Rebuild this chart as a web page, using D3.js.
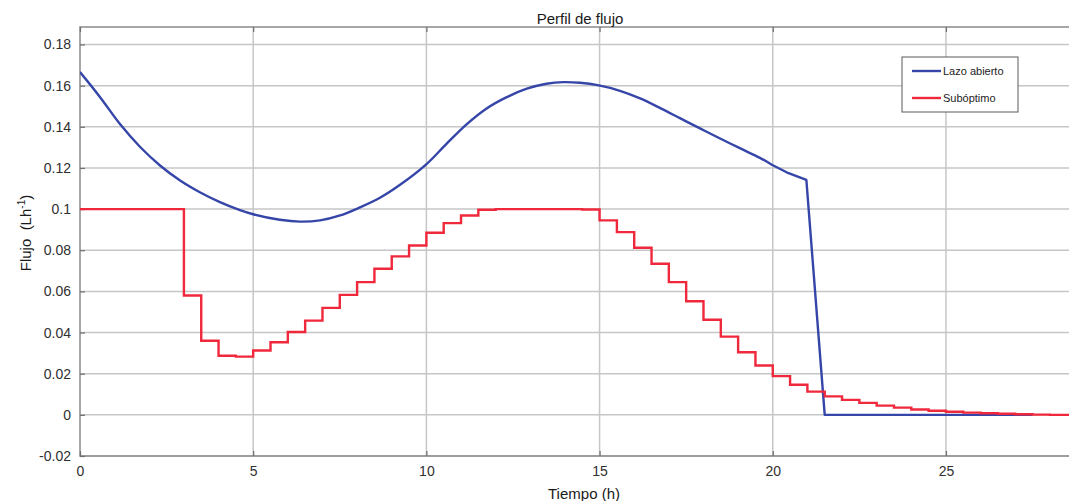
<!DOCTYPE html>
<html>
<head>
<meta charset="utf-8">
<script src="https://cdn.jsdelivr.net/npm/d3@7"></script>
<style>
  html, body { margin: 0; padding: 0; background: #fff; }
  svg { display: block; font-family: "Liberation Sans", Arial, Helvetica, sans-serif; }
</style>
</head>
<body>
<div id="chart"></div>
<script>
// Perfil de flujo: lazo abierto (smooth) vs subóptimo (stepped, 0.5 h intervals)

// Lazo abierto: time (h) and flow (L/h)
const openTimes = [0, 0.58, 1.16, 1.73, 2.31, 2.89, 3.46, 4.04, 4.62, 5.0, 5.77, 6.35, 6.93, 7.51,
  8.08, 8.66, 9.24, 9.98, 10.58, 11.16, 11.73, 12.32, 12.9, 13.47, 13.95, 14.43, 14.98, 15.59,
  16.17, 16.74, 17.32, 17.9, 18.48, 19.05, 19.63, 19.96, 20.4, 20.97, 21.5, 27.5];
const openValues = [0.1666, 0.1544, 0.1412, 0.1303, 0.1212, 0.1139, 0.1082, 0.1034, 0.0995, 0.0975,
  0.0948, 0.0939, 0.0945, 0.0969, 0.1008, 0.1055, 0.1118, 0.1215, 0.1317, 0.1412, 0.1488, 0.1544,
  0.1585, 0.1609, 0.1617, 0.1614, 0.1601, 0.1575, 0.1538, 0.1492, 0.1442, 0.1392, 0.1343, 0.1296,
  0.1249, 0.1217, 0.1179, 0.1142, 0, 0];
// index from which the curve is drawn with straight segments (the kink and drop)
const openKinkIndex = 35;

// Subóptimo: step start times (h) and flow (L/h)
const subTimes = [0, 3, 3.5, 4, 4.5, 5, 5.5, 6, 6.5, 7, 7.5, 8, 8.5, 9, 9.5, 10, 10.5, 11, 11.5,
  12, 12.5, 13, 13.5, 14, 14.5, 15, 15.5, 16, 16.5, 17, 17.5, 18, 18.5, 19, 19.5, 20, 20.5, 21,
  21.5, 22, 22.5, 23, 23.5, 24, 24.5, 25, 25.5, 26, 26.5, 27, 27.5, 28, 28.87];
const subValues = [0.1, 0.058, 0.036, 0.0287, 0.0283, 0.0313, 0.0353, 0.0403, 0.0458, 0.052, 0.0583,
  0.0645, 0.071, 0.077, 0.0823, 0.0885, 0.0932, 0.0969, 0.0997, 0.1, 0.1, 0.1, 0.1, 0.1, 0.0998,
  0.0945, 0.0888, 0.0812, 0.0734, 0.0645, 0.0552, 0.0462, 0.038, 0.0304, 0.024, 0.0188, 0.0146,
  0.0113, 0.009, 0.0073, 0.0058, 0.0045, 0.0035, 0.0026, 0.002, 0.0015, 0.0011, 0.0008, 0.0005,
  0.0003, 0.0001, 0, 0];

const xTicks = [0, 5, 10, 15, 20, 25];
const yTicks = [-0.02, 0, 0.02, 0.04, 0.06, 0.08, 0.1, 0.12, 0.14, 0.16, 0.18];
const seriesNames = ["Lazo abierto", "Subóptimo"];
const seriesColors = ["#3646a8", "#f0283c"];

const width = 1069, height = 501;
const margin = { top: 27, right: -11, bottom: 45, left: 80 };
const innerW = width - margin.left - margin.right;
const innerH = height - margin.top - margin.bottom;

const svg = d3.select("#chart").append("svg")
  .attr("width", width)
  .attr("height", height);

svg.append("rect").attr("width", width).attr("height", height).attr("fill", "#fff");

const g = svg.append("g").attr("transform", `translate(${margin.left},${margin.top})`);

const x = d3.scaleLinear().domain([0, 28.87]).range([0, innerW]);
const y = d3.scaleLinear().domain([-0.02, 0.1885]).range([innerH, 0]);

// grid
g.append("g").selectAll("line").data(yTicks).join("line")
  .attr("x1", 0).attr("x2", innerW)
  .attr("y1", d => y(d)).attr("y2", d => y(d))
  .attr("stroke", "#c6c6c6").attr("stroke-width", 1.5);
g.append("g").selectAll("line").data(xTicks.filter(d => d > 0)).join("line")
  .attr("y1", 0).attr("y2", innerH)
  .attr("x1", d => x(d)).attr("x2", d => x(d))
  .attr("stroke", "#c6c6c6").attr("stroke-width", 1.5);

// frame (left, top, bottom)
g.append("path")
  .attr("d", `M${innerW},0H0V${innerH}H${innerW}`)
  .attr("fill", "none").attr("stroke", "#8a8a8a").attr("stroke-width", 1.5);

// axes (ticks point inward)
const xAxisB = g.append("g").attr("transform", `translate(0,${innerH})`)
  .call(d3.axisBottom(x).tickValues(xTicks).tickSize(-5).tickPadding(10).tickFormat(d3.format("d")));
const xAxisT = g.append("g")
  .call(d3.axisTop(x).tickValues(xTicks).tickSize(-5).tickFormat(""));
const yAxis = g.append("g")
  .call(d3.axisLeft(y).tickValues(yTicks).tickSize(-5).tickPadding(9).tickFormat(d => String(+d.toFixed(2))));

[xAxisB, xAxisT, yAxis].forEach(a => {
  a.select(".domain").remove();
  a.selectAll(".tick line").attr("stroke", "#6f6f6f").attr("stroke-width", 1.2);
  a.selectAll("text").attr("fill", "#303030").attr("font-size", 14)
    .attr("font-family", "\"Liberation Sans\", Arial, sans-serif");
});

// clip for plot area
svg.append("clipPath").attr("id", "clip")
  .append("rect").attr("x", 0).attr("y", -2).attr("width", innerW).attr("height", innerH + 4);
const plot = g.append("g").attr("clip-path", "url(#clip)");

// Lazo abierto
const openData = openTimes.map((t, i) => ({ t, v: openValues[i] }));
const smoothLine = d3.line().x(d => x(d.t)).y(d => y(d.v)).curve(d3.curveCatmullRom.alpha(0.5));
const straightLine = d3.line().x(d => x(d.t)).y(d => y(d.v));
plot.append("path")
  .attr("d", smoothLine(openData.slice(0, openKinkIndex + 1)) + straightLine(openData.slice(openKinkIndex)).replace(/^M/, "L"))
  .attr("fill", "none").attr("stroke", seriesColors[0]).attr("stroke-width", 2.4)
  .attr("stroke-linejoin", "round");

// Subóptimo
const subData = subTimes.map((t, i) => ({ t, v: subValues[i] }));
plot.append("path")
  .attr("d", d3.line().x(d => x(d.t)).y(d => y(d.v)).curve(d3.curveStepAfter)(subData))
  .attr("fill", "none").attr("stroke", seriesColors[1]).attr("stroke-width", 2.4);

// title and labels
svg.append("text").attr("x", 580).attr("y", 24).attr("text-anchor", "middle")
  .attr("font-size", 15).attr("fill", "#1a1a1a").text("Perfil de flujo");

svg.append("text").attr("x", 584).attr("y", 499).attr("text-anchor", "middle")
  .attr("font-size", 15).attr("fill", "#1a1a1a").text("Tiempo (h)");

const yl = svg.append("text")
  .attr("transform", "translate(31,233) rotate(-90)")
  .attr("text-anchor", "middle").attr("font-size", 15).attr("fill", "#1a1a1a")
  .style("white-space", "pre");
yl.append("tspan").text("Flujo  (Lh");
yl.append("tspan").attr("dy", -6).attr("font-size", 10).text("-1");
yl.append("tspan").attr("dy", 6).text(")");

// legend
const legend = svg.append("g").attr("transform", "translate(902,57)");
legend.append("rect").attr("width", 116).attr("height", 55)
  .attr("fill", "#fff").attr("stroke", "#5a5a5a").attr("stroke-width", 1);
seriesNames.forEach((name, i) => {
  const ly = 14 + i * 27;
  legend.append("line").attr("x1", 10).attr("x2", 39).attr("y1", ly).attr("y2", ly)
    .attr("stroke", seriesColors[i]).attr("stroke-width", 2.4);
  legend.append("text").attr("x", 41).attr("y", ly + 4)
    .attr("font-size", 11).attr("fill", "#222").text(name);
});
</script>
</body>
</html>
